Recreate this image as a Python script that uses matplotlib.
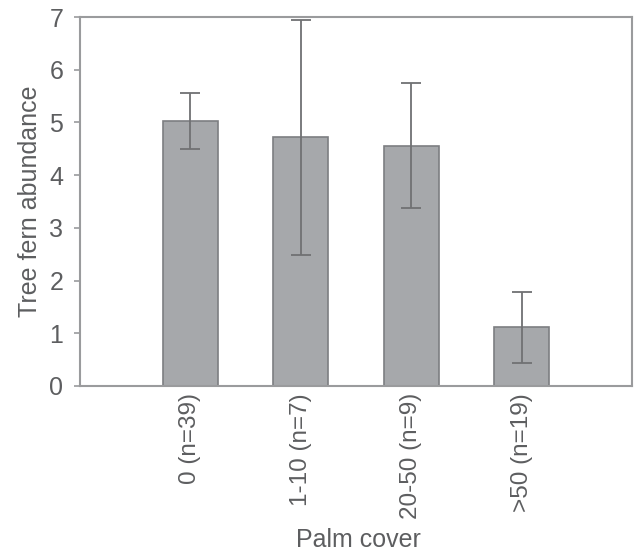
import numpy as np
import matplotlib.pyplot as plt

plt.rcParams['font.family'] = ['Liberation Sans', 'DejaVu Sans']

# Data
categories = ['0 (n=39)', '1-10 (n=7)', '20-50 (n=9)', '>50 (n=19)']
means = [5.03, 4.72, 4.56, 1.11]
errors = [0.53, 2.23, 1.19, 0.67]

text_col = '#5d5e60'
spine_col = '#9a9b9d'

fig = plt.figure(figsize=(6.38, 5.56), dpi=100)
ax = fig.add_axes([0.1254, 0.3058, 0.8652, 0.6636])

x = np.arange(1, len(categories) + 1)
ax.bar(x, means, width=0.5, color='#a6a8ab', edgecolor='#7d7e81', linewidth=1.2,
       yerr=errors, ecolor='#707173', capsize=7,
       error_kw=dict(elinewidth=1.3, capthick=1.3))

ax.set_xlim(0, 5)
ax.set_ylim(0, 7)
ax.set_yticks(range(0, 8))
ax.set_xticks(x)
ax.set_xticklabels(categories, rotation=90, va='top', ha='center')
ax.tick_params(axis='x', length=0, pad=5, labelsize=17.5, labelcolor=text_col)
ax.tick_params(axis='y', length=4, width=1.2, color=spine_col, pad=8,
               labelsize=18, labelcolor=text_col)

for s in ax.spines.values():
    s.set_color(spine_col)
    s.set_linewidth(1.5)

ax.set_ylabel('Tree fern abundance', fontsize=18, color=text_col, labelpad=5)
fig.text(0.562, 0.028, 'Palm cover', fontsize=18, color=text_col,
         ha='center', va='center')

fig.savefig('out.png', dpi=100)
